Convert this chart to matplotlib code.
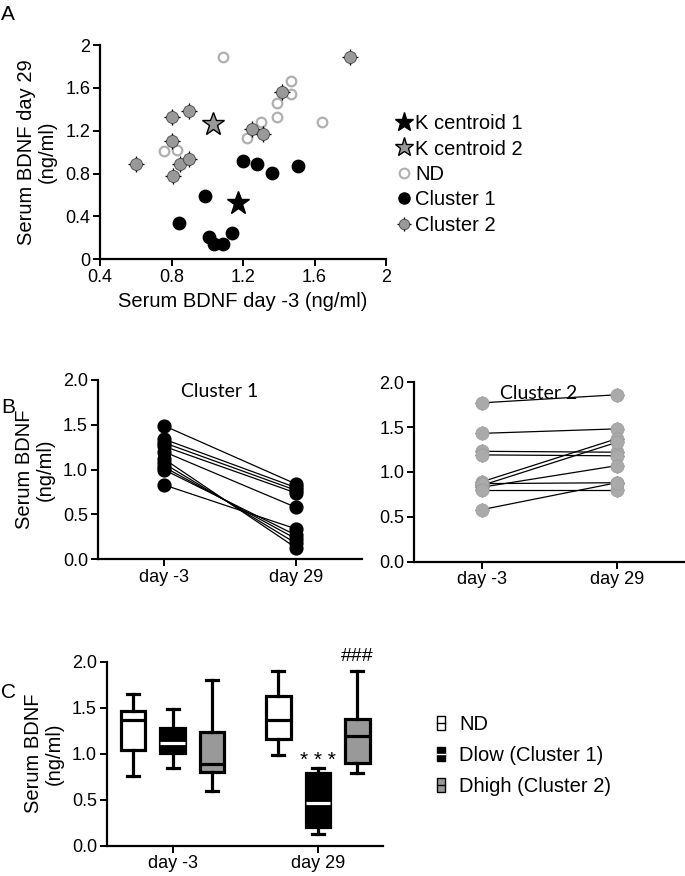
import numpy as np
import matplotlib
matplotlib.use('Agg')
import matplotlib.pyplot as plt
from matplotlib.lines import Line2D
from matplotlib.patches import Patch

plt.rcParams['font.family'] = ['Liberation Sans', 'DejaVu Sans']

W, H = 685, 876

# ---- Panel A: scatter, day -3 vs day 29
nd_x = [1.09, 0.76, 0.83, 1.22, 1.30, 1.39, 1.39, 1.47, 1.47, 1.64]
nd_y = [1.89, 1.01, 1.02, 1.13, 1.28, 1.33, 1.46, 1.66, 1.54, 1.28]
c1_x = [1.20, 1.28, 1.36, 1.51, 0.99, 0.84, 1.01, 1.04, 1.09, 1.14]
c1_y = [0.92, 0.89, 0.81, 0.87, 0.59, 0.34, 0.21, 0.14, 0.14, 0.25]
c2_x = [0.60, 0.80, 0.90, 0.80, 0.81, 0.85, 0.90, 1.25, 1.31, 1.42, 1.80]
c2_y = [0.89, 1.33, 1.38, 1.10, 0.78, 0.89, 0.94, 1.22, 1.17, 1.56, 1.89]
centroid1 = (1.17, 0.53)
centroid2 = (1.03, 1.26)

# ---- Panel B: paired values per cluster
days = ['day -3', 'day 29']
b1_pre = [1.49, 1.34, 1.30, 1.26, 1.20, 1.12, 1.07, 1.03, 1.00, 0.83]
b1_post = [0.84, 0.80, 0.77, 0.74, 0.58, 0.13, 0.18, 0.23, 0.27, 0.34]
b2_pre = [1.77, 1.43, 1.23, 1.19, 0.89, 0.85, 0.83, 0.87, 0.80, 0.58]
b2_post = [1.86, 1.48, 1.22, 1.18, 1.37, 1.33, 1.07, 0.88, 0.80, 0.88]

# ---- Panel C: box stats [whislo, q1, med, q3, whishi]
groups = ['ND', 'Dlow (Cluster 1)', 'Dhigh (Cluster 2)']
box_pre = [[0.76, 1.04, 1.37, 1.46, 1.65],
           [0.84, 1.01, 1.12, 1.28, 1.49],
           [0.59, 0.80, 0.89, 1.24, 1.80]]
box_post = [[0.99, 1.16, 1.37, 1.63, 1.90],
            [0.13, 0.20, 0.46, 0.79, 0.84],
            [0.79, 0.90, 1.19, 1.38, 1.90]]
box_face = ['white', 'black', '#999999']
box_median = ['black', 'white', 'black']


def px_axes(fig, left, top, right, bottom):
    return fig.add_axes([left / W, 1 - bottom / H, (right - left) / W, (bottom - top) / H])


def style(ax):
    for s in ['top', 'right']:
        ax.spines[s].set_visible(False)
    for s in ['left', 'bottom']:
        ax.spines[s].set_linewidth(1.6)
    ax.tick_params(width=1.4, length=5, labelsize=13, pad=2)


fig = plt.figure(figsize=(W / 100, H / 100), dpi=100)

# ================= A
ax = px_axes(fig, 100, 45, 386, 259.3)
style(ax)
ax.scatter(nd_x, nd_y, s=48, facecolor='white', edgecolor='#b0b0b0', linewidth=1.6, zorder=2)
ax.scatter(c1_x, c1_y, s=80, color='black', zorder=3)
ax.scatter(c2_x, c2_y, s=120, marker='+', color='black', linewidth=1.0, zorder=3)
ax.scatter(c2_x, c2_y, s=75, color='#999999', edgecolor='#444444', linewidth=0.6, zorder=4)
ax.plot(*centroid1, marker='*', ms=17, color='black', zorder=5)
ax.plot(*centroid2, marker='*', ms=17, mfc='#999999', mec='black', mew=1, zorder=5)
ax.set_xlim(0.4, 2.0)
ax.set_ylim(0, 2.0)
ax.set_xticks([0.4, 0.8, 1.2, 1.6, 2.0])
ax.set_xticklabels(['0.4', '0.8', '1.2', '1.6', '2'])
ax.set_yticks([0, 0.4, 0.8, 1.2, 1.6, 2.0])
ax.set_yticklabels(['0', '0.4', '0.8', '1.2', '1.6', '2'])
ax.set_xlabel('Serum BDNF day -3 (ng/ml)', fontsize=14.5, labelpad=4)
ax.set_ylabel('Serum BDNF day 29\n(ng/ml)', fontsize=14.5, labelpad=6, linespacing=1.1)

handles_a = [
    Line2D([], [], ls='', marker='*', ms=14, color='black'),
    Line2D([], [], ls='', marker='*', ms=14, mfc='#999999', mec='black'),
    Line2D([], [], ls='', marker='o', ms=7, mfc='white', mec='#b0b0b0', mew=1.5),
    Line2D([], [], ls='', marker='o', ms=8, color='black'),
    (Line2D([], [], ls='', marker='+', ms=10, color='black'),
     Line2D([], [], ls='', marker='o', ms=7.5, mfc='#999999', mec='#444444', mew=0.6)),
]
labels_a = ['K centroid 1', 'K centroid 2', 'ND', 'Cluster 1', 'Cluster 2']
ax.legend(handles_a, labels_a, loc='upper left', bbox_to_anchor=(388 / W, 1 - 104 / H),
          bbox_transform=fig.transFigure, frameon=False, fontsize=14.5,
          handlelength=0.6, handletextpad=0.25, labelspacing=0.32, borderpad=0)

fig.text(1 / W, 1 - 5 / H, 'A', fontsize=15, va='top', ha='left')

# ================= B
for left, right, bottom, pre, post, color, title in [
        (97.7, 361.7, 559.3, b1_pre, b1_post, 'black', 'Cluster 1'),
        (414.3, 684.3, 561.7, b2_pre, b2_post, '#aaaaaa', 'Cluster 2')]:
    ax = px_axes(fig, left, bottom - 179.5, right, bottom)
    style(ax)
    for a, b in zip(pre, post):
        ax.plot([0, 1], [a, b], color='black', lw=0.9, zorder=2)
    if color == 'black':
        ax.scatter(np.zeros(len(pre)), pre, s=85, color='black', zorder=3, clip_on=False)
        ax.scatter(np.ones(len(post)), post, s=85, color='black', zorder=3, clip_on=False)
    else:
        for xs, vals in [(np.zeros(len(pre)), pre), (np.ones(len(post)), post)]:
            ax.scatter(xs, vals, s=110, marker='+', color='#333333', linewidth=0.8, zorder=3)
            ax.scatter(xs, vals, s=90, color=color, edgecolor='#999999', linewidth=0.5, zorder=4)
    ax.set_xlim(-0.5, 1.5)
    ax.set_ylim(0, 2.0)
    ax.set_xticks([0, 1])
    ax.set_xticklabels(days)
    ax.set_yticks([0, 0.5, 1.0, 1.5, 2.0])
    ax.set_yticklabels(['0.0', '0.5', '1.0', '1.5', '2.0'])
    ax.text(0.46, 0.935, title, transform=ax.transAxes, ha='center', va='center',
            fontsize=14, family=['Lato', 'DejaVu Sans'])
    if color == 'black':
        ax.set_ylabel('Serum BDNF\n(ng/ml)', fontsize=14.5, labelpad=6, linespacing=1.1)

fig.text(1 / W, 1 - 398 / H, 'B', fontsize=15, va='top', ha='left')

# ================= C
ax = px_axes(fig, 106.7, 661.7, 383, 845.7)
style(ax)
offsets = [-1, 0, 1]
centers = [0, 3.67]
for center, data in zip(centers, [box_pre, box_post]):
    for k, st in enumerate(data):
        stats = [dict(whislo=st[0], q1=st[1], med=st[2], q3=st[3], whishi=st[4], fliers=[])]
        ax.bxp(stats, positions=[center + offsets[k]], widths=0.62, capwidths=0.3,
               patch_artist=True, showfliers=False,
               boxprops=dict(facecolor=box_face[k], edgecolor='black', linewidth=2.3),
               whiskerprops=dict(color='black', linewidth=2.3),
               capprops=dict(color='black', linewidth=2.3),
               medianprops=dict(color=box_median[k], linewidth=2.3))
ax.text(centers[1], box_post[1][4] - 0.02, '* * *', ha='center', va='bottom', fontsize=15)
ax.text(centers[1] + 1, box_post[2][4] + 0.06, '###', ha='center', va='bottom', fontsize=14,
        clip_on=False)
ax.set_xlim(-1.67, 5.32)
ax.set_ylim(0, 2.0)
ax.set_xticks(centers)
ax.set_xticklabels(days)
ax.set_yticks([0, 0.5, 1.0, 1.5, 2.0])
ax.set_yticklabels(['0.0', '0.5', '1.0', '1.5', '2.0'])
ax.set_ylabel('Serum BDNF\n(ng/ml)', fontsize=14.5, labelpad=6, linespacing=1.1)

handles_c = [(Patch(facecolor=f, edgecolor='black', linewidth=1.0),
              Line2D([], [], color=m, lw=1.0)) for f, m in zip(box_face, box_median)]
ax.legend(handles_c, groups, loc='upper left', bbox_to_anchor=(427 / W, 1 - 705 / H),
          bbox_transform=fig.transFigure, frameon=False, fontsize=14.5,
          handlelength=0.4, handleheight=0.7, handletextpad=0.7, labelspacing=0.6,
          borderpad=0)

fig.text(1 / W, 1 - 683 / H, 'C', fontsize=15, va='top', ha='left')

fig.savefig('out.png', dpi=100)
